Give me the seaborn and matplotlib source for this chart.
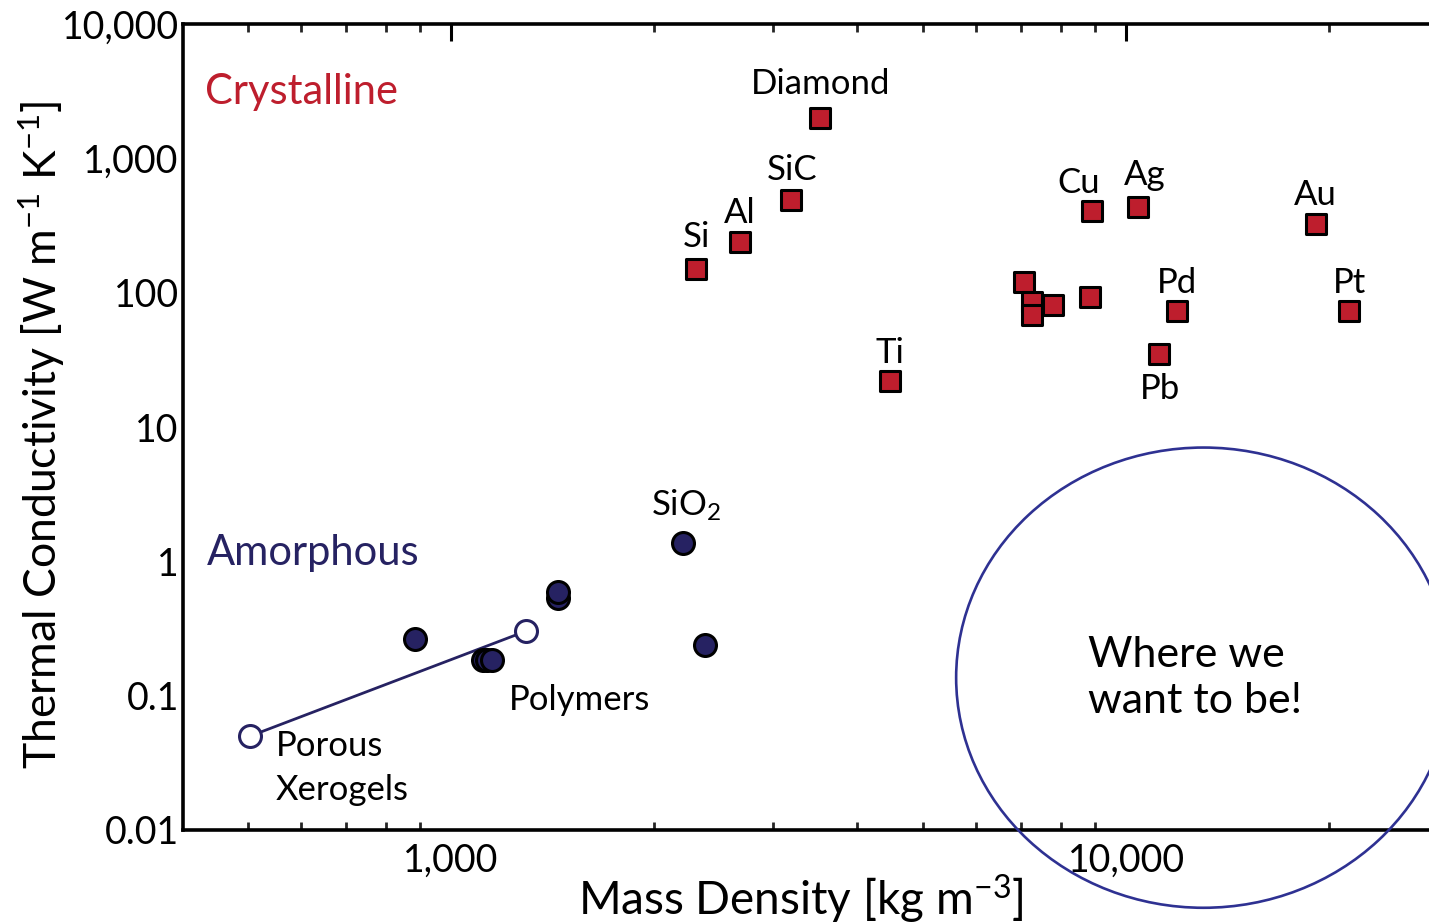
import matplotlib
matplotlib.use("Agg")
import matplotlib.pyplot as plt
import seaborn as sns
import pandas as pd
from matplotlib.patches import Ellipse
from matplotlib.ticker import FixedLocator, FixedFormatter, LogLocator, NullLocator, NullFormatter

# ---- data ----------------------------------------------------------------
# crystalline solids: density [kg m^-3], thermal conductivity [W m^-1 K^-1]
crystal_names = ["Diamond", "SiC", "Al", "Si", "Ti", "Cu", "Ag", "Au", "Pt", "Pd", "Pb",
                 "", "", "", "", ""]
crystal_density = [3520, 3190, 2680, 2310, 4470, 8900, 10400, 19100, 21400, 11900, 11200,
                   7070, 7260, 7260, 7800, 8840]
crystal_k = [2000, 490, 237, 150, 22, 405, 432, 322, 73, 73, 35,
             120, 85, 68, 81, 93]

# amorphous solids (filled circles)
amorph_names = ["", "", "", "", "", "", "SiO2", ""]
amorph_density = [885, 1115, 1130, 1150, 1440, 1440, 2207, 2380]
amorph_k = [0.264, 0.184, 0.184, 0.184, 0.53, 0.59, 1.37, 0.238]

# porous xerogel trend (open circles joined by a line)
xerogel_density = [504, 1291]
xerogel_k = [0.050, 0.302]

y_ticks = [0.01, 0.1, 1, 10, 100, 1000, 10000]
y_tick_labels = ["0.01", "0.1", "1", "10", "100", "1,000", "10,000"]
x_ticks = [1000, 10000]
x_tick_labels = ["1,000", "10,000"]

# label offsets (pixels) relative to each marker
crystal_offsets = {"Diamond": (1, 24), "SiC": (1, 20), "Al": (0, 19), "Si": (0, 22),
                   "Ti": (0, 18), "Cu": (-13, 18), "Ag": (7, 22), "Au": (0, 19),
                   "Pt": (0, 18), "Pd": (0, 18), "Pb": (1, -45)}

RED = "#be1e2d"
NAVY = "#262262"
RING = "#2e3192"

# ---- style ---------------------------------------------------------------
sns.set_theme(style="white")
FONT = "Lato"
plt.rcParams["font.family"] = [FONT, "DejaVu Sans"]
plt.rcParams["mathtext.fontset"] = "custom"
plt.rcParams["mathtext.rm"] = FONT
plt.rcParams["mathtext.it"] = FONT
plt.rcParams["mathtext.bf"] = FONT

fig = plt.figure(figsize=(14.29, 9.23), dpi=100)
ax = fig.add_axes([183 / 1429, 93 / 923, 1 - 183 / 1429, 806 / 923])

crystal = pd.DataFrame({"density": crystal_density, "k": crystal_k, "name": crystal_names})
amorph = pd.DataFrame({"density": amorph_density, "k": amorph_k, "name": amorph_names})
xerogel = pd.DataFrame({"density": xerogel_density, "k": xerogel_k})

sns.lineplot(data=xerogel, x="density", y="k", ax=ax, color=NAVY, linewidth=2.0,
             sort=False, zorder=2)
sns.scatterplot(data=xerogel, x="density", y="k", ax=ax, marker="o", s=250,
                facecolor="white", edgecolor=NAVY, linewidth=2.2, zorder=3)
sns.scatterplot(data=amorph, x="density", y="k", ax=ax, marker="o", s=250,
                color=NAVY, edgecolor="black", linewidth=2.2, zorder=3)
sns.scatterplot(data=crystal, x="density", y="k", ax=ax, marker="s", s=188,
                color=RED, edgecolor="black", linewidth=2.2, zorder=3)

ax.set_xscale("log")
ax.set_yscale("log")
ax.set_xlim(401, 28100)
ax.set_ylim(0.01, 10000)

# ---- point labels --------------------------------------------------------
for _, row in crystal.iterrows():
    if row["name"]:
        dx, dy = crystal_offsets[row["name"]]
        ax.annotate(row["name"], (row["density"], row["k"]), xytext=(dx, dy),
                    textcoords="offset pixels", ha="center", va="baseline",
                    fontsize=25, color="black")

for _, row in amorph.iterrows():
    if row["name"] == "SiO2":
        ax.annotate("SiO$_2$", (row["density"], row["k"]), xytext=(3, 27),
                    textcoords="offset pixels", ha="center", va="baseline",
                    fontsize=25, color="black")

ax.annotate("Porous\nXerogels", (xerogel_density[0], xerogel_k[0]), xytext=(26, 6),
            textcoords="offset pixels", ha="left", va="top", fontsize=25,
            linespacing=1.45, color="black")
ax.text(1219, 0.078, "Polymers", ha="left", va="baseline", fontsize=25, color="black")

ax.text(0.0177, 0.9007, "Crystalline", transform=ax.transAxes, ha="left",
        va="baseline", fontsize=30, color=RED)
ax.text(0.019, 0.329, "Amorphous", transform=ax.transAxes, ha="left",
        va="baseline", fontsize=30, color=NAVY)

# target region
ax.add_patch(Ellipse((0.819, 0.189), 0.397, 0.571, transform=ax.transAxes,
                     fill=False, edgecolor=RING, linewidth=1.9, clip_on=False, zorder=4))
ax.text((1088 - 183) / 1246, (830 - 713) / 806, "Where we\nwant to be!",
        transform=ax.transAxes, ha="left", va="baseline", fontsize=31,
        linespacing=1.25, color="black")

# ---- axes ----------------------------------------------------------------
ax.yaxis.set_major_locator(FixedLocator(y_ticks))
ax.yaxis.set_major_formatter(FixedFormatter(y_tick_labels))
ax.yaxis.set_minor_locator(NullLocator())
ax.xaxis.set_major_locator(FixedLocator(x_ticks))
ax.xaxis.set_major_formatter(FixedFormatter(x_tick_labels))
ax.xaxis.set_minor_locator(LogLocator(base=10, subs=range(2, 10)))
ax.xaxis.set_minor_formatter(NullFormatter())

ax.tick_params(axis="both", which="major", direction="in", length=12, width=2.2,
               labelsize=27, colors="black", top=True, right=False)
ax.tick_params(axis="x", which="major", pad=9)
ax.tick_params(axis="y", which="major", pad=3)
ax.tick_params(axis="x", which="minor", direction="in", length=6, width=2,
               top=True, bottom=True)

for side in ["left", "bottom", "top"]:
    ax.spines[side].set_linewidth(2.6)
    ax.spines[side].set_color("black")
ax.spines["right"].set_visible(False)

ax.set_xlabel("Mass Density [kg m$^{-3}$]", fontsize=33, color="black")
ax.set_ylabel("Thermal Conductivity [W m$^{-1}$ K$^{-1}$]", fontsize=32, color="black")
ax.xaxis.set_label_coords(0.496, -0.052)
ax.yaxis.set_label_coords(-0.093, 0.49)

fig.savefig("out.png", dpi=100)
